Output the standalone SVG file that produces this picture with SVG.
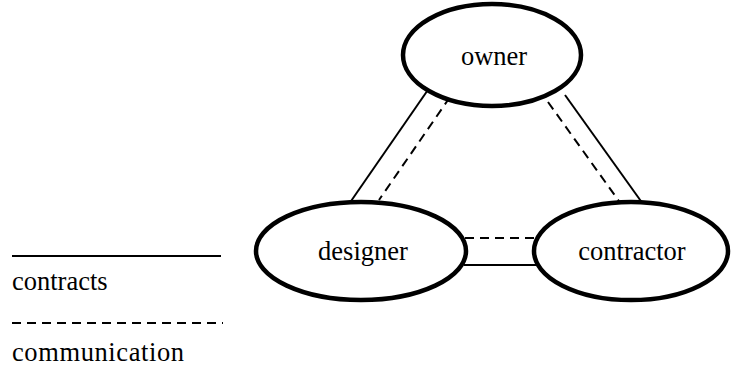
<svg xmlns="http://www.w3.org/2000/svg" width="731" height="368" viewBox="0 0 731 368">
  <style>
    .node ellipse { fill: #fff; stroke: #000; stroke-width: 4.5; }
    .label { font-family: 'Liberation Serif', 'Times New Roman', Times, 'DejaVu Serif', serif; font-size: 26.5px; fill: #000; }
    .node .label { text-anchor: middle; }
    .solid { stroke: #000; stroke-width: 2; fill: none; }
    .dashed { stroke: #000; stroke-width: 2; fill: none; stroke-dasharray: 9 6; }
  </style>
  <rect width="731" height="368" fill="#fff"/>

  <!-- relations between the parties -->
  <g id="connectors">
    <line class="solid" x1="432" y1="84" x2="349" y2="204"/>
    <line class="dashed" x1="450" y1="97" x2="379" y2="200"/>
    <line class="solid" x1="565" y1="95" x2="643" y2="204"/>
    <line class="dashed" x1="548" y1="102" x2="621" y2="204"/>
    <line class="solid" x1="464" y1="265" x2="536" y2="265"/>
    <line class="dashed" x1="465" y1="238" x2="534" y2="238"/>
  </g>

  <g id="owner" class="node">
    <ellipse cx="492" cy="55" rx="89" ry="51"/>
    <text class="label" x="494" y="65">owner</text>
  </g>
  <g id="designer" class="node">
    <ellipse cx="361" cy="251" rx="105" ry="49"/>
    <text class="label" x="363" y="260">designer</text>
  </g>
  <g id="contractor" class="node">
    <ellipse cx="631" cy="251" rx="97" ry="49"/>
    <text class="label" x="632" y="260">contractor</text>
  </g>

  <!-- legend -->
  <g id="legend">
    <line class="solid" x1="12" y1="256" x2="221" y2="256"/>
    <text class="label" x="12" y="290">contracts</text>
    <line class="dashed" x1="12" y1="323" x2="223" y2="323" stroke-dasharray="10 7.5"/>
    <text class="label" x="12" y="361" textLength="172">communication</text>
  </g>
</svg>
